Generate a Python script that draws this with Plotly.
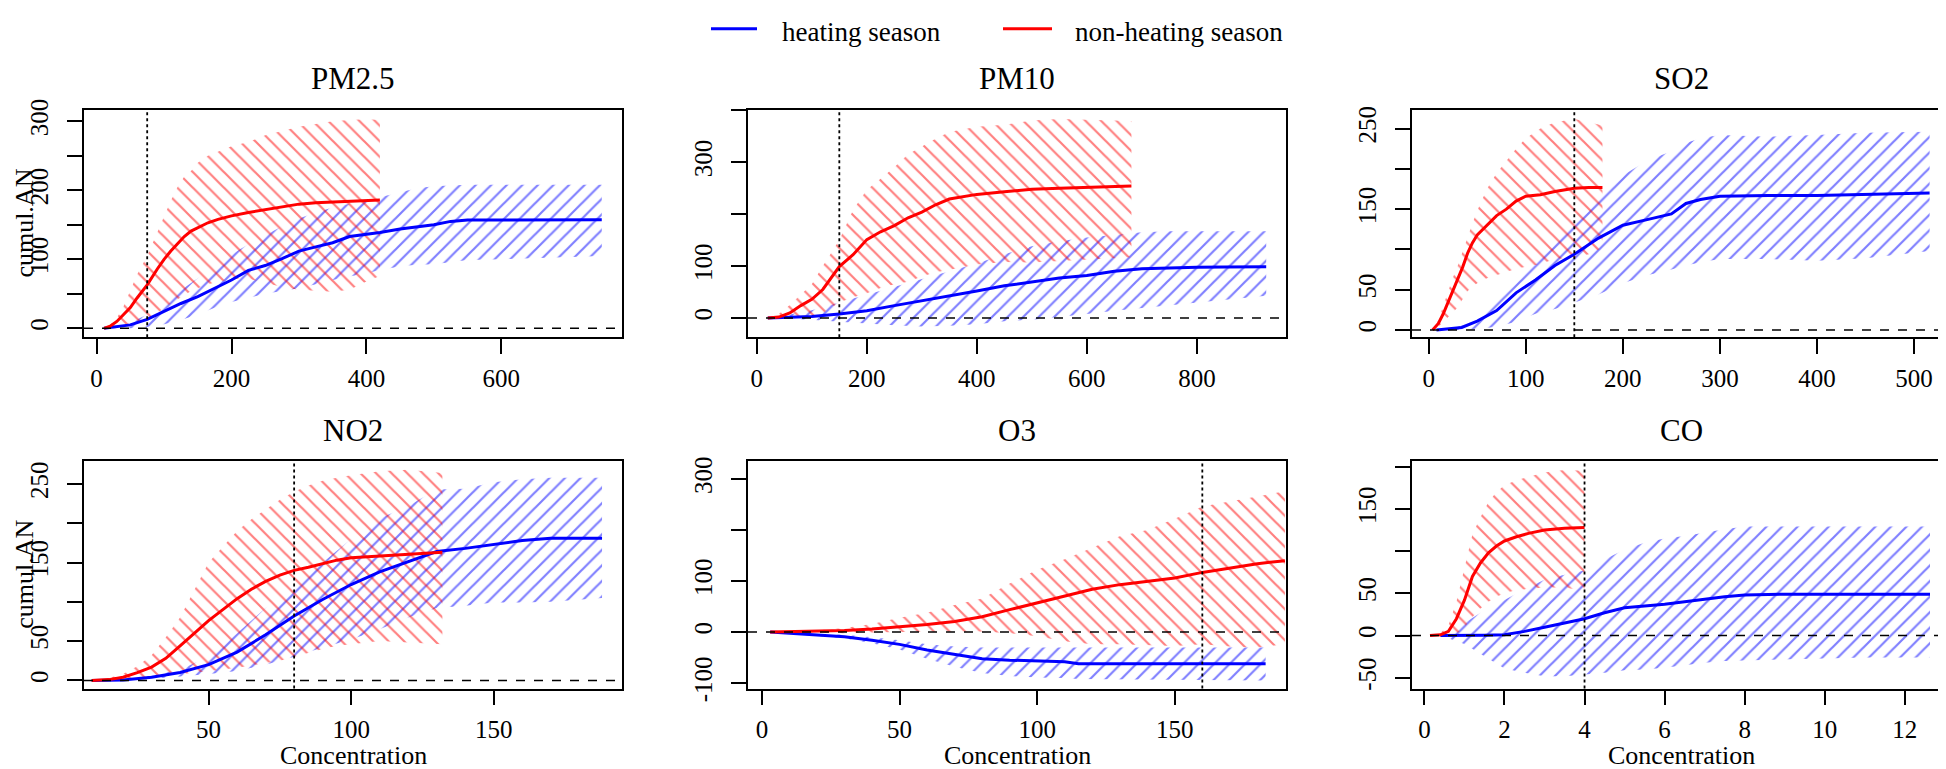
import plotly.graph_objects as go

FONT = "Times New Roman, Times, serif"
BLUE = "#0000FF"
RED = "#FF0000"

# ---------------- data ----------------
# PM2.5
pm25_heat_x = [11, 30, 50, 75, 100, 125, 150, 175, 200, 225, 250, 275, 300, 325, 350, 375, 400, 420, 450, 475, 500, 525, 550, 600, 650, 700, 749]
pm25_heat_est = [0, 2, 5, 13, 25, 36, 46, 58, 70, 84, 91, 101, 112, 118, 124, 133, 136, 139, 144, 147, 150, 155, 157, 157, 157.5, 157.5, 157.5]
pm25_heat_hi = [0, 3, 8, 20, 38, 55, 72, 90, 107, 122, 135, 148, 159, 168, 175, 181, 186, 190, 197, 203, 206, 207, 208, 208, 208, 208, 208]
pm25_heat_lo = [0, 0, 0, 2, 6, 12, 20, 30, 38, 44, 50, 54, 58, 64, 70, 76, 80, 84, 90, 92, 93, 96, 99, 100, 102, 103, 105]
pm25_non_x = [11, 20, 30, 40, 50, 60, 75, 90, 100, 110, 120, 130, 140, 150, 165, 180, 200, 225, 250, 275, 300, 325, 350, 375, 400, 420]
pm25_non_est = [0, 3, 10, 20, 30, 44, 63, 86, 100, 112, 123, 133, 141, 146, 153, 158, 163, 168, 172, 176, 180, 182, 183, 184.5, 185.5, 186]
pm25_non_hi = [0, 5, 15, 32, 55, 78, 105, 140, 163, 185, 205, 220, 228, 240, 250, 256, 264, 270, 280, 286, 292, 296, 300, 302, 303, 302]
pm25_non_lo = [0, 0, 1, 3, 6, 10, 14, 22, 30, 36, 42, 48, 54, 58, 64, 68, 72, 72, 66, 60, 56, 54, 53, 56, 68, 76]

# PM10
pm10_heat_x = [20, 50, 100, 150, 200, 250, 300, 350, 400, 450, 500, 550, 600, 650, 700, 750, 800, 850, 926]
pm10_heat_est = [0, 1, 3, 8, 14, 24, 33, 42, 52, 62, 70, 77, 82, 90, 95, 97, 98, 98.5, 98.6]
pm10_heat_hi = [0, 5, 15, 30, 45, 60, 75, 90, 105, 123, 138, 148, 155, 160, 165, 167, 167, 167, 167]
pm10_heat_lo = [0, -1, -3, -7, -11, -14, -16, -15, -12, -6, -3, 2, 8, 14, 20, 25, 30, 35, 43]
pm10_non_x = [20, 40, 60, 80, 100, 120, 150, 175, 200, 225, 250, 275, 300, 325, 350, 400, 450, 500, 550, 600, 681]
pm10_non_est = [0, 2, 10, 24, 36, 55, 99, 122, 151, 166, 178, 193, 204, 218, 229, 238, 243, 248, 250, 252, 254]
pm10_non_hi = [0, 8, 25, 45, 65, 100, 150, 208, 247, 268, 290, 315, 330, 345, 358, 368, 372, 380, 383, 381, 379]
pm10_non_lo = [0, 0, 1, 3, 5, 10, 30, 40, 48, 58, 65, 70, 80, 88, 93, 103, 108, 107, 110, 112, 117]

# SO2
so2_heat_x = [8, 20, 34, 50, 70, 90, 110, 130, 150, 175, 200, 225, 250, 265, 280, 300, 350, 400, 450, 516]
so2_heat_est = [0, 1, 3, 11, 24, 46, 62, 80, 94, 114, 130, 137, 144, 157, 162, 166, 167, 167, 168, 170]
so2_heat_hi = [0, 2, 5, 14, 35, 60, 85, 110, 140, 168, 192, 210, 222, 232, 238, 242, 240, 242, 245, 246]
so2_heat_lo = [0, 0, 0, 1, 4, 10, 20, 26, 34, 44, 58, 68, 75, 80, 84, 88, 88, 86, 89, 98]
so2_non_x = [4, 10, 15, 20, 25, 30, 35, 40, 45, 50, 60, 70, 80, 90, 100, 115, 130, 150, 165, 179]
so2_non_est = [0, 8, 20, 34, 48, 62, 78, 95, 108, 118, 130, 142, 150, 160, 166, 168, 172, 176, 177, 177]
so2_non_hi = [0, 12, 30, 48, 65, 80, 98, 115, 132, 148, 175, 195, 210, 225, 238, 250, 258, 262, 258, 254]
so2_non_lo = [0, 4, 10, 16, 22, 28, 38, 48, 54, 58, 64, 68, 72, 76, 78, 82, 88, 90, 94, 102]

# NO2
no2_heat_x = [9, 20, 30, 40, 50, 60, 70, 80, 90, 100, 110, 120, 130, 140, 150, 160, 170, 188]
no2_heat_est = [0, 0.5, 4, 10, 20, 36, 58, 82, 103, 122, 138, 151, 164, 168, 173, 178, 181, 181]
no2_heat_hi = [0, 1, 6, 14, 30, 60, 92, 115, 150, 180, 206, 222, 243, 244, 252, 256, 258, 258]
no2_heat_lo = [0, 0, 2, 5, 8, 12, 20, 30, 42, 52, 65, 80, 92, 95, 99, 99, 100, 105]
no2_non_x = [9, 15, 20, 25, 30, 35, 40, 45, 50, 55, 60, 65, 70, 75, 80, 85, 90, 95, 100, 110, 120, 132]
no2_non_est = [0, 1, 4, 10, 17, 28, 44, 60, 76, 90, 104, 116, 126, 134, 140, 144, 149, 153, 156, 158, 160, 163]
no2_non_hi = [0, 3, 8, 18, 32, 55, 80, 115, 150, 170, 190, 205, 218, 230, 240, 248, 254, 258, 261, 266, 268, 264]
no2_non_lo = [0, 0, 0, 1, 3, 6, 8, 10, 12, 14, 16, 19, 22, 25, 30, 35, 40, 44, 46, 50, 48, 46]

# O3
o3_heat_x = [3, 10, 20, 30, 40, 50, 60, 70, 80, 90, 100, 110, 115, 130, 150, 183]
o3_heat_est = [0, -2, -5, -9, -16, -24, -35, -44, -52, -55, -57, -58, -62, -62, -62, -62]
o3_heat_hi = [0, -1, -3, -5, -10, -16, -24, -28, -30, -30, -30, -30, -30, -30, -30, -30]
o3_heat_lo = [0, -3, -7, -12, -22, -34, -52, -68, -80, -86, -89, -90, -92, -93, -94, -95]
o3_non_x = [3, 20, 30, 40, 50, 60, 70, 80, 90, 100, 110, 120, 130, 140, 150, 160, 170, 180, 190]
o3_non_est = [0, 1, 3, 6, 10, 15, 21, 30, 44, 57, 70, 84, 93, 99, 106, 117, 126, 134, 140]
o3_non_hi = [0, 3, 8, 16, 28, 38, 53, 66, 95, 122, 143, 165, 188, 200, 222, 246, 256, 267, 276]
o3_non_lo = [0, -1, -2, -1, 0, 0, 1, 1, -2, -8, -18, -24, -24, -25, -27, -24, -28, -30, -24]

# CO
co_heat_x = [0.4, 1.0, 1.5, 2.0, 2.5, 3.0, 3.5, 4.0, 4.5, 5.0, 5.5, 6.0, 6.5, 7.0, 7.5, 8.0, 9.0, 10.0, 11.0, 12.63]
co_heat_est = [0, 0, 0.5, 1, 5, 10, 15, 20, 27, 33, 35, 37, 40, 43, 46, 48, 49, 49, 49, 49]
co_heat_hi = [0, 15, 30, 42, 55, 66, 72, 77, 90, 102, 110, 115, 118, 122, 126, 129, 129, 129, 129, 129]
co_heat_lo = [0, -10, -24, -39, -44, -48, -48, -46, -44, -41, -40, -38, -35, -32, -30, -29, -28, -27, -26, -26]
co_non_x = [0.14, 0.4, 0.6, 0.8, 1.0, 1.2, 1.4, 1.6, 1.8, 2.0, 2.3, 2.6, 3.0, 3.5, 4.0]
co_non_est = [0, 1, 5, 20, 42, 70, 86, 98, 106, 112, 117, 121, 125, 127, 128]
co_non_hi = [0, 3, 12, 40, 80, 120, 140, 158, 170, 178, 184, 188, 193, 196, 195]
co_non_lo = [0, 0, 0, 2, 10, 22, 32, 40, 46, 50, 54, 55, 57, 57, 53]

# titles, guideline values and tick labels
pollutants = ["PM2.5", "PM10", "SO2", "NO2", "O3", "CO"]
thresholds = [75, 150, 150, 80, 160, 4]
season_names = ["heating season", "non-heating season"]

x_ticks = [[0, 200, 400, 600], [0, 200, 400, 600, 800], [0, 100, 200, 300, 400, 500],
           [50, 100, 150], [0, 50, 100, 150], [0, 2, 4, 6, 8, 10, 12]]
y_ticks = [[0, 50, 100, 150, 200, 250, 300], [0, 100, 200, 300, 400], [0, 50, 100, 150, 200, 250],
           [0, 50, 100, 150, 200, 250], [-100, 0, 100, 200, 300], [-50, 0, 50, 100, 150, 200]]
y_tick_labels = [["0", "", "100", "", "200", "", "300"], ["0", "100", "", "300", ""],
                 ["0", "50", "", "150", "", "250"], ["0", "50", "", "150", "", "250"],
                 ["-100", "0", "100", "", "300"], ["-50", "0", "50", "", "150", ""]]
x_ranges = [[-18.7, 779], [-16, 962], [-17.2, 537], [6.3, 195], [-5.05, 190.4], [-0.31, 13.13]]
y_ranges = [[-13, 316.5], [-37, 400.5], [-9.2, 273.2], [-10.3, 279], [-110.5, 335], [-62.6, 206.5]]

heat_series = [
    (pm25_heat_x, pm25_heat_est, pm25_heat_lo, pm25_heat_hi),
    (pm10_heat_x, pm10_heat_est, pm10_heat_lo, pm10_heat_hi),
    (so2_heat_x, so2_heat_est, so2_heat_lo, so2_heat_hi),
    (no2_heat_x, no2_heat_est, no2_heat_lo, no2_heat_hi),
    (o3_heat_x, o3_heat_est, o3_heat_lo, o3_heat_hi),
    (co_heat_x, co_heat_est, co_heat_lo, co_heat_hi),
]
non_series = [
    (pm25_non_x, pm25_non_est, pm25_non_lo, pm25_non_hi),
    (pm10_non_x, pm10_non_est, pm10_non_lo, pm10_non_hi),
    (so2_non_x, so2_non_est, so2_non_lo, so2_non_hi),
    (no2_non_x, no2_non_est, no2_non_lo, no2_non_hi),
    (o3_non_x, o3_non_est, o3_non_lo, o3_non_hi),
    (co_non_x, co_non_est, co_non_lo, co_non_hi),
]

# ---------------- layout geometry (pixels) ----------------
W, H = 1946, 769
col_px = [(76, 614), (740, 1278), (1404, 1942)]
row_px = [(94, 329), (457, 692)]
title_y_px = [62, 425]


def px_x(p):
    return p / W


def px_y(p):
    return 1 - p / H


fig = go.Figure()
layout = dict(width=W, height=H, margin=dict(l=0, r=0, t=0, b=0), autosize=False,
              plot_bgcolor="white", paper_bgcolor="white", showlegend=False,
              font=dict(family=FONT, color="black"))
shapes = []
annotations = []

for i in range(6):
    r, c = divmod(i, 3)
    n = "" if i == 0 else str(i + 1)
    xa, ya = "x" + n, "y" + n
    layout["xaxis" + n] = dict(
        domain=[px_x(col_px[c][0]), px_x(col_px[c][1])], anchor=ya, range=x_ranges[i],
        tickvals=x_ticks[i], ticktext=[str(v) for v in x_ticks[i]],
        ticks="outside", ticklen=15, tickwidth=1.5, tickcolor="black",
        showline=True, linewidth=1.5, linecolor="black", mirror=True,
        showgrid=False, zeroline=False, tickfont=dict(size=25, family=FONT, color="black"),
        ticklabelstandoff=3)
    layout["yaxis" + n] = dict(
        domain=[px_y(row_px[r][1]), px_y(row_px[r][0])], anchor=xa, range=y_ranges[i],
        tickvals=y_ticks[i], ticktext=y_tick_labels[i], tickangle=-90,
        ticks="outside", ticklen=15, tickwidth=1.5, tickcolor="black",
        showline=True, linewidth=1.5, linecolor="black", mirror=True,
        showgrid=False, zeroline=False, tickfont=dict(size=25, family=FONT, color="black"),
        ticklabelstandoff=9)

    # hatched confidence bands
    for (sx, se, slo, shi), col, shape in ((heat_series[i], BLUE, "/"), (non_series[i], RED, "\\")):
        fig.add_trace(go.Scatter(
            x=list(sx) + list(sx)[::-1], y=list(shi) + list(slo)[::-1],
            fill="toself", mode="lines", line=dict(width=0, color="rgba(0,0,0,0)"),
            fillcolor="rgba(0,0,0,0)",
            fillpattern=dict(shape=shape, fgcolor=col, bgcolor="rgba(0,0,0,0)", size=11, solidity=0.2),
            xaxis=xa, yaxis=ya, hoverinfo="skip"))
    # central estimates
    for (sx, se, slo, shi), col, nm in ((heat_series[i], BLUE, season_names[0]), (non_series[i], RED, season_names[1])):
        fig.add_trace(go.Scatter(x=sx, y=se, mode="lines", line=dict(color=col, width=3),
                                 name=nm, xaxis=xa, yaxis=ya))

    # reference lines
    shapes.append(dict(type="line", xref=xa + " domain", x0=0, x1=1, yref=ya, y0=0, y1=0,
                       line=dict(color="black", width=1.5, dash="dash")))
    shapes.append(dict(type="line", xref=xa, x0=thresholds[i], x1=thresholds[i], yref=ya + " domain",
                       y0=0, y1=1, line=dict(color="black", width=1.8, dash="dot")))

    # panel title
    annotations.append(dict(text=pollutants[i], xref="paper", yref="paper",
                            x=px_x((col_px[c][0] + col_px[c][1]) / 2), y=px_y(title_y_px[r]),
                            xanchor="center", yanchor="middle", showarrow=False,
                            font=dict(size=31, family=FONT, color="black")))
    if c == 0:
        annotations.append(dict(text="cumul.AN", xref="paper", yref="paper", textangle=-90,
                                x=px_x(17), y=px_y((row_px[r][0] + row_px[r][1]) / 2),
                                xanchor="center", yanchor="middle", showarrow=False,
                                font=dict(size=26, family=FONT, color="black")))
    if r == 1:
        annotations.append(dict(text="Concentration", xref="paper", yref="paper",
                                x=px_x((col_px[c][0] + col_px[c][1]) / 2), y=px_y(761),
                                xanchor="center", yanchor="middle", showarrow=False,
                                font=dict(size=26, family=FONT, color="black")))

# legend drawn at the top
legend_items = [(season_names[0], BLUE, 703, 749, 772), (season_names[1], RED, 995, 1044, 1065)]
for txt, col, lx0, lx1, tx in legend_items:
    shapes.append(dict(type="line", xref="paper", yref="paper", x0=px_x(lx0), x1=px_x(lx1),
                       y0=px_y(10), y1=px_y(10), line=dict(color=col, width=3)))
    annotations.append(dict(text=txt, xref="paper", yref="paper", x=px_x(tx), y=px_y(13),
                            xanchor="left", yanchor="middle", showarrow=False,
                            font=dict(size=27, family=FONT, color="black")))

layout["shapes"] = shapes
layout["annotations"] = annotations
fig.update_layout(**layout)
fig.write_html("out.html")
